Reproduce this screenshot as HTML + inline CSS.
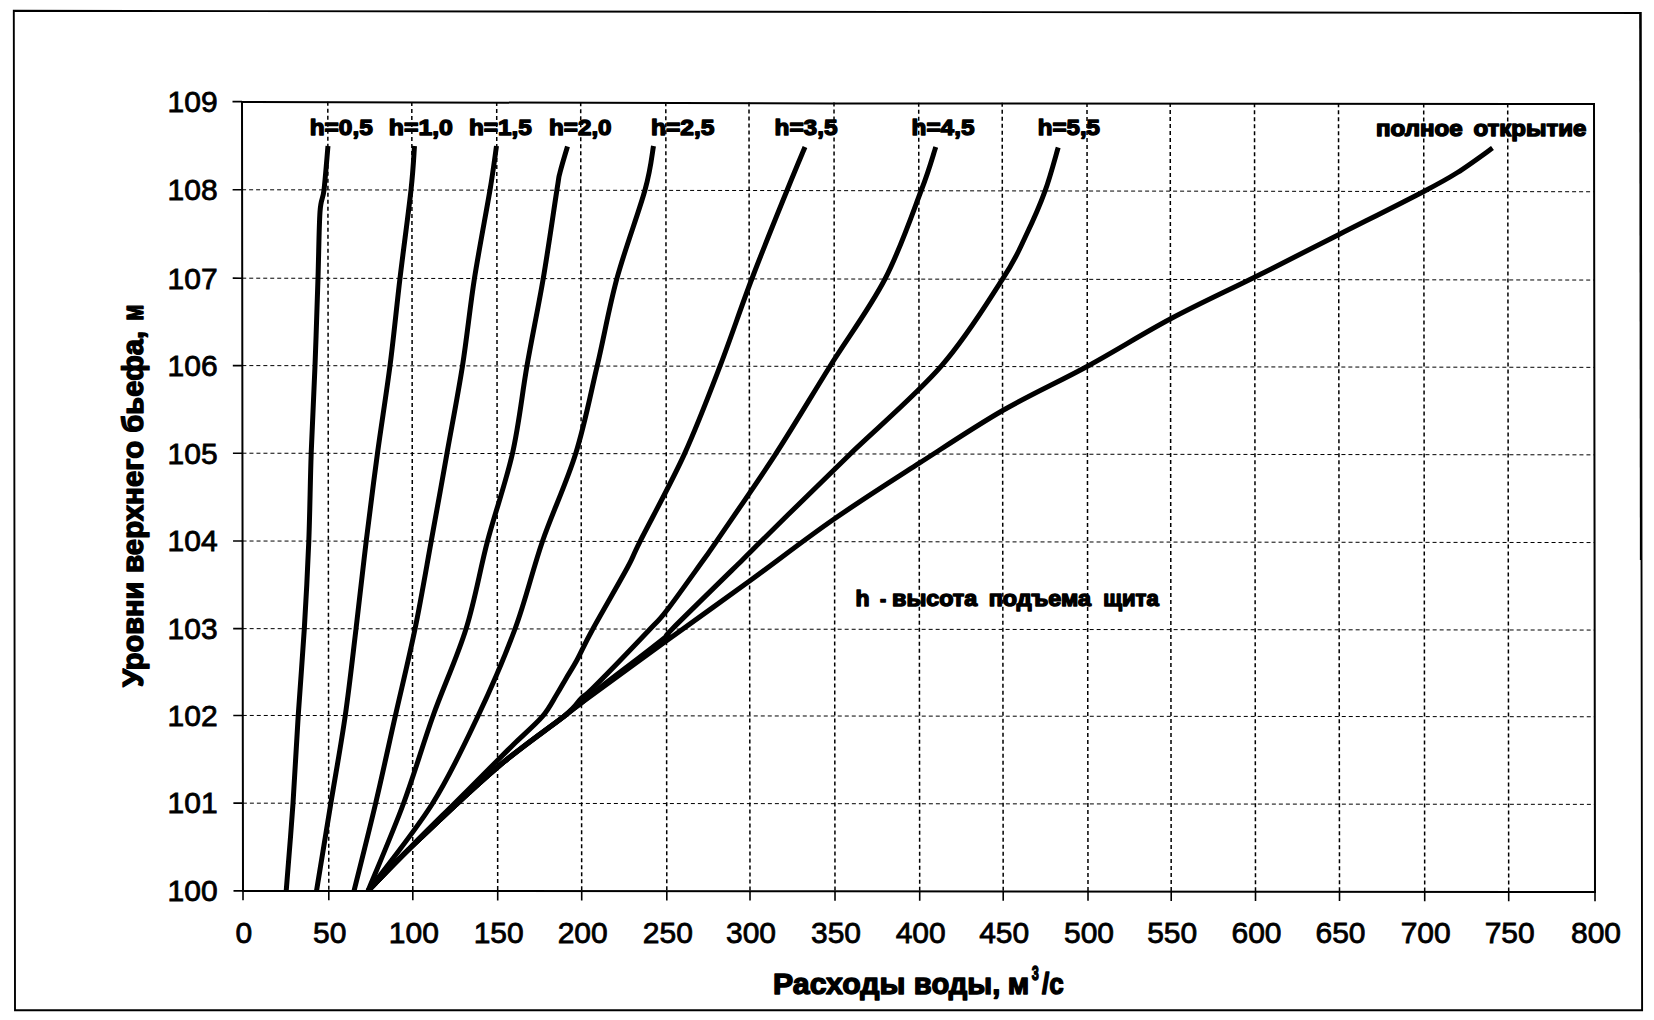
<!DOCTYPE html>
<html lang="ru"><head><meta charset="utf-8"><title>Расходы воды</title>
<style>html,body{margin:0;padding:0;background:#fff;}body{width:1654px;height:1020px;overflow:hidden;}svg{display:block;}text{font-family:"Liberation Sans",sans-serif;fill:#000;}.t{font-size:30px;stroke:#000;stroke-width:0.8px;}.b{font-weight:bold;stroke:#000;stroke-width:1.4px;stroke-linejoin:round;}.g{stroke:#000;fill:none;}</style></head><body>
<svg width="1654" height="1020" viewBox="0 0 1654 1020">
<rect x="0" y="0" width="1654" height="1020" fill="#fff"/>
<polygon class="g" stroke-width="1.9" stroke-linejoin="miter" points="13.8,10.8 1640.8,13 1642.1,1010.3 15,1010.3"/>
<line class="g" stroke-width="1.4" x1="1639.9" y1="12.2" x2="1640.6" y2="560"/>
<line class="g" stroke-width="1.5" stroke-dasharray="4 3" x1="327.80" y1="101.79" x2="328.80" y2="890.94"/>
<line class="g" stroke-width="1.5" stroke-dasharray="4 3" x1="411.80" y1="101.92" x2="412.80" y2="891.01"/>
<line class="g" stroke-width="1.5" stroke-dasharray="4 3" x1="496.70" y1="102.05" x2="497.70" y2="891.08"/>
<line class="g" stroke-width="1.5" stroke-dasharray="4 3" x1="580.70" y1="102.18" x2="581.70" y2="891.15"/>
<line class="g" stroke-width="1.5" stroke-dasharray="4 3" x1="665.80" y1="102.31" x2="666.80" y2="891.22"/>
<line class="g" stroke-width="1.5" stroke-dasharray="4 3" x1="749.00" y1="102.44" x2="750.00" y2="891.28"/>
<line class="g" stroke-width="1.5" stroke-dasharray="4 3" x1="834.00" y1="102.57" x2="835.00" y2="891.35"/>
<line class="g" stroke-width="1.5" stroke-dasharray="4 3" x1="918.70" y1="102.71" x2="919.70" y2="891.42"/>
<line class="g" stroke-width="1.5" stroke-dasharray="4 3" x1="1002.20" y1="102.84" x2="1003.20" y2="891.49"/>
<line class="g" stroke-width="1.5" stroke-dasharray="4 3" x1="1087.00" y1="102.97" x2="1088.00" y2="891.56"/>
<line class="g" stroke-width="1.5" stroke-dasharray="4 3" x1="1170.20" y1="103.10" x2="1171.20" y2="891.63"/>
<line class="g" stroke-width="1.5" stroke-dasharray="4 3" x1="1254.50" y1="103.23" x2="1255.50" y2="891.70"/>
<line class="g" stroke-width="1.5" stroke-dasharray="4 3" x1="1338.50" y1="103.36" x2="1339.50" y2="891.76"/>
<line class="g" stroke-width="1.5" stroke-dasharray="4 3" x1="1423.70" y1="103.49" x2="1424.70" y2="891.83"/>
<line class="g" stroke-width="1.5" stroke-dasharray="4 3" x1="1507.70" y1="103.62" x2="1508.70" y2="891.90"/>
<line class="g" stroke-width="1" stroke-dasharray="4 3" x1="242.89" y1="803.16" x2="1594.89" y2="804.37"/>
<line class="g" stroke-width="1" stroke-dasharray="4 3" x1="242.78" y1="715.45" x2="1594.78" y2="716.77"/>
<line class="g" stroke-width="1" stroke-dasharray="4 3" x1="242.67" y1="628.63" x2="1594.67" y2="630.07"/>
<line class="g" stroke-width="1" stroke-dasharray="4 3" x1="242.56" y1="541.02" x2="1594.56" y2="542.56"/>
<line class="g" stroke-width="1" stroke-dasharray="4 3" x1="242.45" y1="453.21" x2="1594.45" y2="454.86"/>
<line class="g" stroke-width="1" stroke-dasharray="4 3" x1="242.34" y1="365.59" x2="1594.34" y2="367.36"/>
<line class="g" stroke-width="1" stroke-dasharray="4 3" x1="242.22" y1="278.18" x2="1594.22" y2="280.06"/>
<line class="g" stroke-width="1" stroke-dasharray="4 3" x1="242.11" y1="189.77" x2="1594.11" y2="191.76"/>
<polygon class="g" stroke-width="2" stroke-linejoin="miter" points="242.0,101.9 830,103.5 1594.0,104.0 1595.0,892.1 830,891.2 243.0,891.0"/>
<line class="g" stroke-width="1.6" x1="233.50" y1="890.86" x2="243.00" y2="890.87"/>
<line class="g" stroke-width="1.6" x1="233.39" y1="803.15" x2="242.89" y2="803.16"/>
<line class="g" stroke-width="1.6" x1="233.28" y1="715.44" x2="242.78" y2="715.45"/>
<line class="g" stroke-width="1.6" x1="233.17" y1="628.62" x2="242.67" y2="628.63"/>
<line class="g" stroke-width="1.6" x1="233.06" y1="541.01" x2="242.56" y2="541.02"/>
<line class="g" stroke-width="1.6" x1="232.95" y1="453.20" x2="242.45" y2="453.21"/>
<line class="g" stroke-width="1.6" x1="232.84" y1="365.58" x2="242.34" y2="365.59"/>
<line class="g" stroke-width="1.6" x1="232.72" y1="278.17" x2="242.22" y2="278.18"/>
<line class="g" stroke-width="1.6" x1="232.61" y1="189.75" x2="242.11" y2="189.77"/>
<line class="g" stroke-width="1.6" x1="232.50" y1="101.64" x2="242.00" y2="101.65"/>
<line class="g" stroke-width="1.6" x1="243.01" y1="890.87" x2="243.02" y2="900.17"/>
<line class="g" stroke-width="1.6" x1="328.81" y1="890.94" x2="328.82" y2="900.24"/>
<line class="g" stroke-width="1.6" x1="412.81" y1="891.01" x2="412.82" y2="900.31"/>
<line class="g" stroke-width="1.6" x1="497.71" y1="891.08" x2="497.72" y2="900.38"/>
<line class="g" stroke-width="1.6" x1="581.71" y1="891.15" x2="581.72" y2="900.45"/>
<line class="g" stroke-width="1.6" x1="666.81" y1="891.22" x2="666.82" y2="900.52"/>
<line class="g" stroke-width="1.6" x1="750.01" y1="891.28" x2="750.02" y2="900.58"/>
<line class="g" stroke-width="1.6" x1="835.01" y1="891.35" x2="835.02" y2="900.65"/>
<line class="g" stroke-width="1.6" x1="919.71" y1="891.42" x2="919.72" y2="900.72"/>
<line class="g" stroke-width="1.6" x1="1003.21" y1="891.49" x2="1003.22" y2="900.79"/>
<line class="g" stroke-width="1.6" x1="1088.01" y1="891.56" x2="1088.02" y2="900.86"/>
<line class="g" stroke-width="1.6" x1="1171.21" y1="891.63" x2="1171.22" y2="900.93"/>
<line class="g" stroke-width="1.6" x1="1255.51" y1="891.70" x2="1255.52" y2="901.00"/>
<line class="g" stroke-width="1.6" x1="1339.51" y1="891.76" x2="1339.52" y2="901.06"/>
<line class="g" stroke-width="1.6" x1="1424.71" y1="891.83" x2="1424.72" y2="901.13"/>
<line class="g" stroke-width="1.6" x1="1508.71" y1="891.90" x2="1508.72" y2="901.20"/>
<line class="g" stroke-width="1.6" x1="1595.01" y1="891.97" x2="1595.02" y2="901.27"/>
<clipPath id="plotclip"><polygon points="243,100 1596,100 1596,892.6 243,891.6"/></clipPath>
<g clip-path="url(#plotclip)">
<path class="g" stroke-width="5" stroke-linejoin="round" stroke-linecap="butt" d="M286.2,891.0 C287.3,876.4 291.0,832.7 293.0,803.5 C295.0,774.3 296.3,745.1 298.2,716.0 C300.1,686.9 302.5,658.1 304.3,629.0 C306.1,599.9 307.6,570.5 308.8,541.2 C309.9,512.0 310.2,482.5 311.2,453.2 C312.3,424.0 313.9,394.9 315.0,365.8 C316.1,336.6 317.2,303.9 318.0,278.2 C318.8,252.6 319.0,226.7 320.0,212.0 C321.0,197.3 322.7,201.0 324.0,190.0 C325.3,179.0 327.3,153.3 328.0,146.0"/>
<path class="g" stroke-width="5" stroke-linejoin="round" stroke-linecap="butt" d="M316.5,891.0 C318.9,876.4 326.0,832.7 330.8,803.5 C335.6,774.3 341.0,745.1 345.2,716.0 C349.4,686.9 352.5,658.1 356.0,629.0 C359.5,599.9 362.7,570.5 366.2,541.2 C369.8,512.0 373.5,482.5 377.5,453.2 C381.5,424.0 386.2,394.9 390.0,365.8 C393.8,336.6 396.5,307.5 400.0,278.2 C403.5,249.0 408.6,212.0 411.0,190.0 C413.4,168.0 413.9,153.3 414.5,146.0"/>
<path class="g" stroke-width="5" stroke-linejoin="round" stroke-linecap="butt" d="M354.0,891.0 C357.6,876.4 368.7,832.7 375.6,803.5 C382.5,774.3 388.7,745.1 395.3,716.0 C401.9,686.9 409.0,658.1 415.0,629.0 C421.0,599.9 425.9,570.5 431.2,541.2 C436.6,512.0 441.8,482.5 447.0,453.2 C452.2,424.0 457.9,394.9 462.5,365.8 C467.1,336.6 469.9,307.5 474.5,278.2 C479.1,249.0 486.3,212.0 490.0,190.0 C493.7,168.0 495.4,153.3 496.5,146.0"/>
<path class="g" stroke-width="5" stroke-linejoin="round" stroke-linecap="butt" d="M368.0,891.0 C373.9,876.4 392.7,832.7 403.5,803.5 C414.3,774.3 422.6,745.1 433.0,716.0 C443.4,686.9 456.9,658.1 466.0,629.0 C475.1,599.9 479.8,570.5 487.5,541.2 C495.2,512.0 505.9,482.5 512.5,453.2 C519.1,424.0 521.9,394.9 527.0,365.8 C532.1,336.6 538.3,307.6 543.3,278.2 C548.3,248.9 554.2,207.1 557.0,189.5 C559.8,171.9 558.2,179.7 560.0,172.5 C561.8,165.3 566.2,150.8 567.5,146.5"/>
<path class="g" stroke-width="5" stroke-linejoin="round" stroke-linecap="butt" d="M368.0,891.0 C378.8,876.4 414.2,832.7 432.5,803.5 C450.8,774.3 464.2,745.1 478.0,716.0 C491.8,686.9 504.2,658.1 515.0,629.0 C525.8,599.9 532.4,570.5 542.5,541.2 C552.6,512.0 566.7,482.5 575.8,453.2 C584.9,424.0 590.3,394.9 597.2,365.8 C604.1,336.6 609.0,307.5 617.0,278.2 C625.0,249.0 638.9,212.0 645.0,190.0 C651.1,168.0 652.1,153.3 653.5,146.0"/>
<path class="g" stroke-width="5" stroke-linejoin="round" stroke-linecap="butt" d="M368.0,891.0 C375.4,883.4 397.8,860.2 412.3,845.5 C426.8,830.8 440.7,817.2 455.0,803.0 C469.3,788.8 488.1,769.8 497.9,760.0 C507.7,750.2 506.6,751.3 514.0,744.0 C521.4,736.7 535.3,724.7 542.5,716.4 C549.7,708.0 553.1,700.2 557.0,694.0 C560.9,687.8 562.5,684.6 565.8,678.9 C569.1,673.2 572.5,668.3 577.0,660.0 C581.5,651.7 584.3,644.5 592.7,629.2 C601.1,613.9 619.3,582.6 627.2,568.0 C635.1,553.4 630.6,560.3 640.1,541.3 C649.6,522.3 671.1,483.3 684.4,454.1 C697.7,424.9 708.8,395.4 720.0,366.2 C731.2,337.1 740.6,308.3 751.8,279.0 C762.9,249.7 778.1,212.5 787.0,190.5 C795.9,168.5 802.0,154.2 805.0,147.0"/>
<path class="g" stroke-width="5" stroke-linejoin="round" stroke-linecap="butt" d="M368.0,891.0 C375.4,883.5 390.8,866.6 412.3,846.0 C433.8,825.4 471.9,789.1 497.2,767.5 C522.5,745.9 549.9,727.9 563.9,716.4 C577.9,704.9 576.1,703.4 581.1,698.5 C586.1,693.6 582.5,698.5 594.0,687.0 C605.5,675.5 637.8,642.0 649.9,629.2 C662.0,616.4 658.0,621.8 666.9,610.3 C675.8,598.8 695.1,571.5 703.4,560.0 C711.7,548.5 704.5,558.9 716.5,541.3 C728.5,523.6 756.7,483.3 775.6,454.1 C794.5,424.9 811.8,395.4 830.0,366.2 C848.2,337.1 869.8,308.3 885.0,279.0 C900.2,249.7 912.8,212.5 921.2,190.5 C929.7,168.5 933.3,154.2 935.8,147.0"/>
<path class="g" stroke-width="5" stroke-linejoin="round" stroke-linecap="butt" d="M368.0,891.0 C375.4,883.5 390.8,866.6 412.3,846.0 C433.8,825.4 471.9,789.1 497.2,767.5 C522.5,745.9 549.9,727.1 563.9,716.4 C577.9,705.6 574.9,708.0 581.2,703.0 C587.5,698.0 591.7,694.2 601.5,686.5 C611.3,678.8 629.1,665.4 640.0,657.0 C650.9,648.6 661.6,640.6 666.9,636.0 C672.2,631.4 659.4,641.9 672.0,629.2 C684.6,616.5 727.5,574.6 742.4,560.0 C757.2,545.4 753.5,548.8 761.1,541.3 C768.7,533.8 773.2,529.3 788.0,514.8 C802.8,500.3 824.5,479.0 850.0,454.2 C875.5,429.5 915.8,395.4 941.2,366.2 C966.7,337.1 988.3,301.1 1002.5,279.2 C1016.7,257.4 1019.2,249.7 1026.2,235.0 C1033.3,220.3 1039.7,205.8 1045.0,191.2 C1050.3,176.7 1056.0,154.8 1058.2,147.5"/>
<path class="g" stroke-width="5" stroke-linejoin="round" stroke-linecap="butt" d="M368.0,891.0 C375.4,883.5 390.8,866.6 412.3,846.0 C433.8,825.4 471.9,789.1 497.2,767.5 C522.5,745.9 549.9,727.1 563.9,716.4 C577.9,705.6 564.0,715.6 581.2,703.0 C598.4,690.4 638.8,660.9 666.9,640.5 C695.0,620.1 722.0,601.0 749.9,580.8 C777.8,560.5 806.3,538.3 834.5,518.8 C862.7,499.2 891.2,481.2 919.2,463.2 C947.2,445.2 974.7,426.7 1002.7,410.5 C1030.8,394.3 1059.5,381.5 1087.5,366.2 C1115.5,351.0 1142.8,333.6 1170.7,318.8 C1198.6,303.9 1227.0,291.0 1255.0,277.0 C1283.0,263.0 1310.8,248.8 1339.0,234.5 C1367.2,220.2 1404.5,201.6 1424.2,191.2 C1444.0,180.9 1446.1,179.7 1457.5,172.5 C1468.9,165.3 1486.7,152.1 1492.5,148.0"/>
</g>
<text x="217.6" y="901.1" class="t" text-anchor="end">100</text>
<text x="217.6" y="813.4" class="t" text-anchor="end">101</text>
<text x="217.6" y="725.7" class="t" text-anchor="end">102</text>
<text x="217.6" y="638.9" class="t" text-anchor="end">103</text>
<text x="217.6" y="551.3" class="t" text-anchor="end">104</text>
<text x="217.6" y="463.5" class="t" text-anchor="end">105</text>
<text x="217.6" y="375.9" class="t" text-anchor="end">106</text>
<text x="217.6" y="288.5" class="t" text-anchor="end">107</text>
<text x="217.6" y="200.1" class="t" text-anchor="end">108</text>
<text x="217.6" y="112.0" class="t" text-anchor="end">109</text>
<text x="243.8" y="942.5" class="t" text-anchor="middle">0</text>
<text x="329.8" y="942.5" class="t" text-anchor="middle">50</text>
<text x="413.8" y="942.5" class="t" text-anchor="middle">100</text>
<text x="498.7" y="942.5" class="t" text-anchor="middle">150</text>
<text x="582.7" y="942.5" class="t" text-anchor="middle">200</text>
<text x="667.8" y="942.5" class="t" text-anchor="middle">250</text>
<text x="751.0" y="942.5" class="t" text-anchor="middle">300</text>
<text x="836.0" y="942.5" class="t" text-anchor="middle">350</text>
<text x="920.7" y="942.5" class="t" text-anchor="middle">400</text>
<text x="1004.2" y="942.5" class="t" text-anchor="middle">450</text>
<text x="1089.0" y="942.5" class="t" text-anchor="middle">500</text>
<text x="1172.2" y="942.5" class="t" text-anchor="middle">550</text>
<text x="1256.5" y="942.5" class="t" text-anchor="middle">600</text>
<text x="1340.5" y="942.5" class="t" text-anchor="middle">650</text>
<text x="1425.7" y="942.5" class="t" text-anchor="middle">700</text>
<text x="1509.7" y="942.5" class="t" text-anchor="middle">750</text>
<text x="1596.0" y="942.5" class="t" text-anchor="middle">800</text>
<text class="b" font-size="22.7" y="135.2"><tspan x="309.70" textLength="63.08" lengthAdjust="spacingAndGlyphs">h=0,5</tspan></text>
<text class="b" font-size="22.7" y="135.2"><tspan x="388.77" textLength="64.15" lengthAdjust="spacingAndGlyphs">h=1,0</tspan></text>
<text class="b" font-size="22.7" y="135.2"><tspan x="468.90" textLength="62.88" lengthAdjust="spacingAndGlyphs">h=1,5</tspan></text>
<text class="b" font-size="22.7" y="135.2"><tspan x="549.01" textLength="62.58" lengthAdjust="spacingAndGlyphs">h=2,0</tspan></text>
<text class="b" font-size="22.7" y="135.2"><tspan x="650.98" textLength="63.5" lengthAdjust="spacingAndGlyphs">h=2,5</tspan></text>
<text class="b" font-size="22.7" y="135.2"><tspan x="774.50" textLength="62.98" lengthAdjust="spacingAndGlyphs">h=3,5</tspan></text>
<text class="b" font-size="22.7" y="135.2"><tspan x="911.50" textLength="62.98" lengthAdjust="spacingAndGlyphs">h=4,5</tspan></text>
<text class="b" font-size="22.7" y="135.2"><tspan x="1037.77" textLength="62.2" lengthAdjust="spacingAndGlyphs">h=5,5</tspan></text>
<text class="b" font-size="21.2" y="136.4"><tspan x="1376.02" textLength="86.61" lengthAdjust="spacingAndGlyphs">полное</tspan> <tspan x="1473.51" textLength="112.86" lengthAdjust="spacingAndGlyphs">открытие</tspan></text>
<text class="b" font-size="21.5" y="606.4"><tspan x="855.50" textLength="14.03" lengthAdjust="spacingAndGlyphs">h</tspan> <tspan x="880.08" textLength="6.16" lengthAdjust="spacingAndGlyphs">-</tspan> <tspan x="892.07" textLength="85.18" lengthAdjust="spacingAndGlyphs">высота</tspan> <tspan x="988.67" textLength="102.28" lengthAdjust="spacingAndGlyphs">подъема</tspan> <tspan x="1103.25" textLength="55.51" lengthAdjust="spacingAndGlyphs">щита</tspan></text>
<text class="b" font-size="29.5" y="994.4"><tspan x="772.97" y="994.4" textLength="132.44" lengthAdjust="spacingAndGlyphs">Расходы</tspan> <tspan x="913.86" y="994.4" textLength="86.49" lengthAdjust="spacingAndGlyphs">воды,</tspan> <tspan x="1007.78" y="994.4" textLength="21.45" lengthAdjust="spacingAndGlyphs">м</tspan><tspan x="1031.81" font-size="19.5" y="979.9" textLength="7.05" lengthAdjust="spacingAndGlyphs">3</tspan><tspan x="1042.05" y="994.4" textLength="21.72" lengthAdjust="spacingAndGlyphs">/с</tspan></text>
<text class="b" font-size="30" y="142.8" transform="rotate(-90)"><tspan x="-687.11" textLength="105.42" lengthAdjust="spacingAndGlyphs">Уровни</tspan> <tspan x="-572.96" textLength="132.11" lengthAdjust="spacingAndGlyphs">верхнего</tspan> <tspan x="-432.63" textLength="101.68" lengthAdjust="spacingAndGlyphs">бьефа,</tspan> <tspan x="-320.72" textLength="16.15" lengthAdjust="spacingAndGlyphs">м</tspan></text>
</svg></body></html>
